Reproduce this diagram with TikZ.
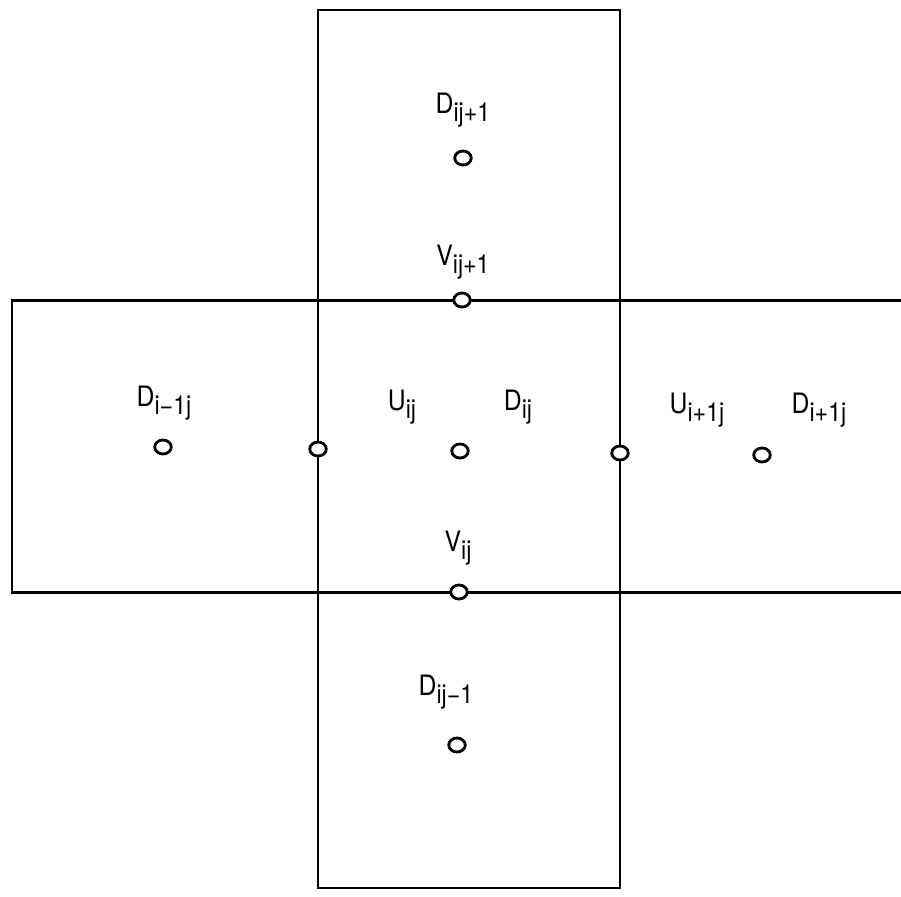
\documentclass[tikz,border=0pt]{standalone}
\usepackage{fontspec}
\setmainfont{TeX Gyre Heros}[FakeStretch=0.88]
\usepackage{tikz}
\usetikzlibrary{shapes.geometric,positioning}

\newcommand{\lowsub}[1]{\raisebox{-0.3em}{\fontsize{15}{16}\selectfont #1}}

\tikzset{
  gridpt/.style={draw, ellipse, inner sep=0pt, minimum width=0.33cm, minimum height=0.28cm, line width=1.6pt, fill=white},
  lbl/.style={font=\fontsize{16}{18}\selectfont, inner sep=1pt},
  cell/.style={line width=1.2pt},
  cellrow/.style={line width=1.7pt}
}

\begin{document}
\begin{tikzpicture}[x=0.02cm, y=-0.02cm]
        \useasboundingbox (0,0) rectangle (901,896);
        % cells
        \draw[cell] (318,10) rectangle (620,888);
        \draw[cellrow] (901,300) -- (12,300) -- (12,592) -- (901,592);

        % points
        \node[gridpt] (dup) at (463,158) {};
        \node[gridpt] (vup) at (462,300) {};
        \node[gridpt] (dleft) at (163,447) {};
        \node[gridpt] (uleft) at (318,449) {};
        \node[gridpt] (dmid) at (460,451) {};
        \node[gridpt] (uright) at (620,453) {};
        \node[gridpt] (dright) at (762,455) {};
        \node[gridpt] (vdown) at (459,592) {};
        \node[gridpt] (ddown) at (457,745) {};

        % labels
        \node[lbl] at (463,110) {D\lowsub{ij+1}};
        \node[lbl] at (463,262) {V\lowsub{ij+1}};
        \node[lbl] at (164,403) {D\lowsub{i−1j}};
        \node[lbl] at (402,407) {U\lowsub{ij}};
        \node[lbl] at (518,407) {D\lowsub{ij}};
        \node[lbl] at (697,410) {U\lowsub{i+1j}};
        \node[lbl] at (819,410) {D\lowsub{i+1j}};
        \node[lbl] at (458,548) {V\lowsub{ij}};
        \node[lbl] at (446,692) {D\lowsub{ij−1}};
    \end{tikzpicture}
\end{document}
